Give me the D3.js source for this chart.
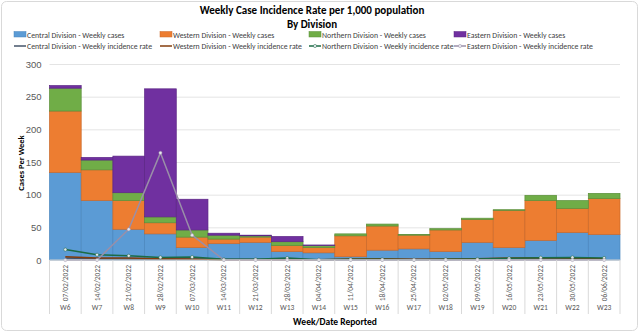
<!DOCTYPE html>
<html>
<head>
<meta charset="utf-8">
<script src="https://cdn.jsdelivr.net/npm/d3@7"></script>
<style>
  body { margin: 0; background: #fff; }
  svg { font-family: Calibri, Carlito, "Liberation Sans", "DejaVu Sans", sans-serif; }
</style>
</head>
<body>
<div id="chart"></div>
<script>
// weeks and report dates
const weeks = ['W6', 'W7', 'W8', 'W9', 'W10', 'W11', 'W12', 'W13', 'W14', 'W15', 'W16', 'W17', 'W18', 'W19', 'W20', 'W21', 'W22', 'W23']
const dates = ['07/02/2022', '14/02/2022', '21/02/2022', '28/02/2022', '07/03/2022', '14/03/2022', '21/03/2022', '28/03/2022', '04/04/2022',
  '11/04/2022', '18/04/2022', '25/04/2022', '02/05/2022', '09/05/2022', '16/05/2022', '23/05/2022', '30/05/2022', '06/06/2022']

// weekly cases per division
const centralCases = [134, 91, 47, 40, 19, 25, 27, 13, 11, 5, 15, 17, 13, 27, 19, 30, 42, 39]
const westernCases = [94, 47, 44, 17, 16, 7, 8, 9, 8, 32, 37, 21, 33, 35, 57, 61, 37, 55]
const northernCases = [35, 15, 12, 9, 11, 6, 2, 6, 3, 3, 3, 1, 2, 2, 1, 8, 12, 8]
const easternCases = [4, 4, 56, 196, 47, 3, 1, 8, 1, 0, 0, 0, 0, 0, 0, 0, 0, 0]

// weekly incidence rate per 1,000 population
const centralRate = [3, 2, 1.5, 1, 1, 1, 1, 0.5, 0.5, 0.3, 0.8, 0.8, 0.5, 1, 0.8, 1.2, 1.5, 1.4]
const westernRate = [5, 3, 3, 2, 1.5, 0.5, 0.5, 0.5, 0.5, 1.5, 2, 1, 1.5, 2, 3, 3.5, 2.5, 2]
const northernRate = [16, 8, 6.5, 4, 4.5, 1, 1, 3, 0.5, 1, 1, 0.5, 1, 1.5, 2.5, 3.5, 4, 3]
const easternRate = [0, 0, 47, 164, 38, 0, 0, 0, 0, 0, 0, 0, 0, 0, 0, 0, 0, 0]

const yTicks = [0, 50, 100, 150, 200, 250, 300]

const width = 640
const height = 333
const margin = { top: 64, right: 20, bottom: 73, left: 49.5 }

const svg = d3.select('#chart').append('svg').attr('width', width).attr('height', height)

svg.append('rect')
  .attr('x', 1.5).attr('y', 1.5)
  .attr('width', width - 4).attr('height', height - 4)
  .attr('rx', 5)
  .attr('fill', '#fff')
  .attr('stroke', '#d9d9d9')

const x = d3.scaleBand().domain(weeks).range([margin.left, width - margin.right]).padding(0)
const y = d3.scaleLinear().domain([0, 300]).range([height - margin.bottom, margin.top])

// gridlines + y axis
svg.append('g')
  .attr('transform', `translate(${margin.left},0)`)
  .call(d3.axisLeft(y).tickValues(yTicks).tickSize(-(width - margin.right - margin.left)).tickPadding(8))
  .call((g) => g.select('.domain').remove())
  .call((g) => g.selectAll('.tick line').attr('stroke', '#e4e4e4'))
  .call((g) => g.selectAll('.tick text').attr('fill', '#595959').attr('font-size', 9.5))

// stacked bars
const keys = ['central', 'western', 'northern', 'eastern']
const barColors = { central: '#5b9bd5', western: '#ed7d31', northern: '#70ad47', eastern: '#7030a0' }
const barEdges = { central: '#4a86be', western: '#c9692a', northern: '#5a8f3a', eastern: '#5c2585' }
const rows = weeks.map((w, i) => ({
  week: w,
  central: centralCases[i],
  western: westernCases[i],
  northern: northernCases[i],
  eastern: easternCases[i],
}))
const stacked = d3.stack().keys(keys)(rows)

svg.append('g')
  .selectAll('g')
  .data(stacked)
  .enter()
  .append('g')
  .attr('fill', (d) => barColors[d.key])
  .attr('stroke', (d) => barEdges[d.key])
  .attr('stroke-width', 0.7)
  .selectAll('rect')
  .data((d) => d)
  .enter()
  .append('rect')
  .attr('x', (d) => x(d.data.week))
  .attr('width', x.bandwidth())
  .attr('y', (d) => y(d[1]))
  .attr('height', (d) => y(d[0]) - y(d[1]))

// incidence rate lines
const rateSeries = [
  { name: 'central', values: centralRate, color: '#44546a', width: 1.5, marker: false },
  { name: 'western', values: westernRate, color: '#843c0c', width: 1.5, marker: false },
  { name: 'northern', values: northernRate, color: '#1b6b45', width: 1.5, marker: true },
  { name: 'eastern', values: easternRate, color: '#9a8fa8', width: 1.5, marker: true },
]
const line = d3.line()
  .x((d, i) => x(weeks[i]) + x.bandwidth() / 2)
  .y((d) => y(d))

for (const s of rateSeries) {
  svg.append('path')
    .datum(s.values)
    .attr('fill', 'none')
    .attr('stroke', s.color)
    .attr('stroke-width', s.width)
    .attr('stroke-linejoin', 'round')
    .attr('d', line)
}
for (const s of rateSeries.filter((s) => s.marker)) {
  svg.append('g')
    .selectAll('circle')
    .data(s.values)
    .enter()
    .append('circle')
    .attr('cx', (d, i) => x(weeks[i]) + x.bandwidth() / 2)
    .attr('cy', (d) => y(d))
    .attr('r', 1.6)
    .attr('fill', '#e8e8ef')
    .attr('stroke', s.color)
    .attr('stroke-width', 0.5)
}

// category axis: separators, dates, week labels
const axisY = y(0)
const cat = svg.append('g')
cat.append('line')
  .attr('x1', margin.left).attr('x2', width - margin.right)
  .attr('y1', axisY).attr('y2', axisY)
  .attr('stroke', '#d9d9d9')
cat.selectAll('.sep')
  .data(weeks.concat(['end']))
  .enter()
  .append('line')
  .attr('x1', (d, i) => margin.left + i * x.bandwidth())
  .attr('x2', (d, i) => margin.left + i * x.bandwidth())
  .attr('y1', axisY).attr('y2', 314)
  .attr('stroke', '#d9d9d9')
cat.selectAll('.date')
  .data(dates)
  .enter()
  .append('text')
  .attr('transform', (d, i) => `translate(${x(weeks[i]) + x.bandwidth() / 2 + 2.5},265) rotate(-90)`)
  .attr('text-anchor', 'end')
  .attr('font-size', 7.5)
  .attr('fill', '#595959')
  .text((d) => d)
cat.selectAll('.week')
  .data(weeks)
  .enter()
  .append('text')
  .attr('x', (d) => x(d) + x.bandwidth() / 2)
  .attr('y', 310)
  .attr('text-anchor', 'middle')
  .attr('font-size', 7.5)
  .attr('fill', '#595959')
  .text((d) => d)

// axis titles
svg.append('text')
  .attr('x', 335).attr('y', 325)
  .attr('text-anchor', 'middle')
  .attr('font-size', 9.5).attr('font-weight', 'bold')
  .attr('fill', '#000')
  .text('Week/Date Reported')
svg.append('text')
  .attr('transform', 'translate(24,163) rotate(-90)')
  .attr('text-anchor', 'middle')
  .attr('font-size', 8.5).attr('font-weight', 'bold')
  .attr('fill', '#000')
  .text('Cases Per Week')

// titles
svg.append('text')
  .attr('x', 312).attr('y', 13.5)
  .attr('text-anchor', 'middle')
  .attr('font-size', 11).attr('font-weight', 'bold')
  .text('Weekly Case Incidence Rate per 1,000 population')
svg.append('text')
  .attr('x', 312).attr('y', 28)
  .attr('text-anchor', 'middle')
  .attr('font-size', 11).attr('font-weight', 'bold')
  .text('By Division')

// legend, two rows: cases swatches, then rate lines
const legendX = [14, 160, 309, 454]
const divisionNames = ['Central Division', 'Western Division', 'Northern Division', 'Eastern Division']
const legend = svg.append('g').attr('font-size', 7.8).attr('fill', '#404040')
divisionNames.forEach((name, i) => {
  legend.append('rect')
    .attr('x', legendX[i]).attr('y', 31.5)
    .attr('width', 12).attr('height', 5.5)
    .attr('fill', barColors[keys[i]])
    .attr('stroke', barEdges[keys[i]])
    .attr('stroke-width', 0.5)
  legend.append('text')
    .attr('x', legendX[i] + 13).attr('y', 37.5)
    .text(name + ' - Weekly cases')
  const s = rateSeries[i]
  legend.append('line')
    .attr('x1', legendX[i]).attr('x2', legendX[i] + 12)
    .attr('y1', 46).attr('y2', 46)
    .attr('stroke', s.color).attr('stroke-width', 1.5)
  if (s.marker) {
    legend.append('circle')
      .attr('cx', legendX[i] + 6).attr('cy', 46)
      .attr('r', 1.6)
      .attr('fill', '#e8e8ef')
      .attr('stroke', s.color).attr('stroke-width', 0.5)
  }
  legend.append('text')
    .attr('x', legendX[i] + 13).attr('y', 49)
    .text(name + ' - Weekly incidence rate')
})
</script>
</body>
</html>
